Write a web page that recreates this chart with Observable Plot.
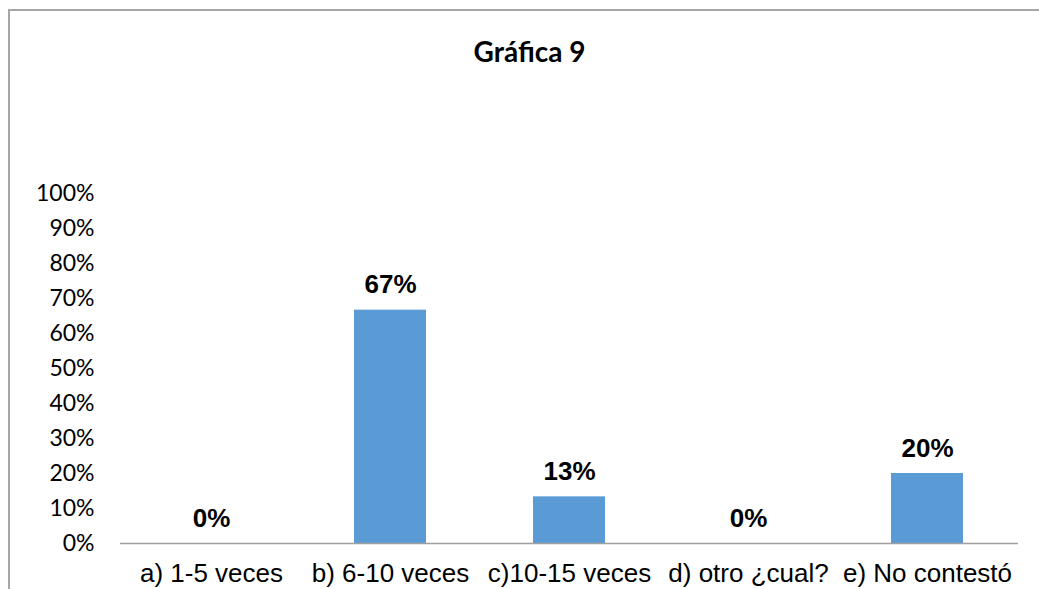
<!DOCTYPE html>
<html>
<head>
<meta charset="utf-8">
<script src="https://cdn.jsdelivr.net/npm/d3@7"></script>
<script src="https://cdn.jsdelivr.net/npm/@observablehq/plot@0.6"></script>
<style>
  html, body { margin: 0; padding: 0; background: #fff; overflow: hidden; }
  #wrap { position: relative; width: 1039px; height: 589px; overflow: hidden; }
  #frame { position: absolute; left: 8px; top: 9px; width: 1100px; height: 700px; border: 2px solid #a6a6a6; box-sizing: border-box; }
  #title { position: absolute; left: 0; top: 34px; width: 1059px; text-align: center; font-family: Lato, "Open Sans", sans-serif; font-weight: 700; font-size: 28px; color: #000; }
  #chart { position: absolute; left: 0; top: 0; }
</style>
</head>
<body>
<div id="wrap">
  <div id="frame"></div>
  <div id="chart"></div>
  <div id="title">Gráfica 9</div>
</div>
<script>
const categories = ["a) 1-5 veces", "b) 6-10 veces", "c)10-15 veces", "d) otro ¿cual?", "e) No contestó"];
const values = [0, 0.6667, 0.1333, 0, 0.2];
const yTicks = [0, 0.1, 0.2, 0.3, 0.4, 0.5, 0.6, 0.7, 0.8, 0.9, 1];

const data = categories.map((c, i) => ({cat: c, value: values[i], label: Math.round(values[i] * 100) + "%"}));

const chart = Plot.plot({
  width: 1039,
  height: 589,
  marginLeft: 120,
  marginRight: 21,
  marginTop: 193,
  marginBottom: 46,
  style: {background: "transparent", overflow: "visible"},
  x: {domain: categories, paddingInner: 0.6, paddingOuter: 0.3},
  y: {domain: [0, 1]},
  marks: [
    Plot.barY(data, {x: "cat", y: "value", fill: "#5b9bd5"}),
    Plot.ruleY([0], {stroke: "#a0a0a0", strokeWidth: 1.5}),
    Plot.ruleX([0], {frameAnchor: "left", stroke: "#a0a0a0", strokeWidth: 1.5, y1: 0, y2: 1}),
    Plot.axisY({ticks: yTicks, tickSize: 0, tickPadding: 26, tickFormat: d => Math.round(d * 100) + "%",
      fontSize: 23, fontFamily: "Lato, 'Open Sans', sans-serif", fill: "#000", label: null}),
    Plot.axisX({tickSize: 0, tickPadding: 20, fontSize: 26, fontFamily: "'Liberation Sans', Arial, sans-serif", fill: "#000", label: null}),
    Plot.text(data, {x: "cat", y: "value", text: "label", dy: -17, lineAnchor: "bottom",
      fontSize: 26, fontWeight: "bold", fontFamily: "'Liberation Sans', Arial, sans-serif", fill: "#000"})
  ]
});
document.getElementById("chart").appendChild(chart);
</script>
</body>
</html>
